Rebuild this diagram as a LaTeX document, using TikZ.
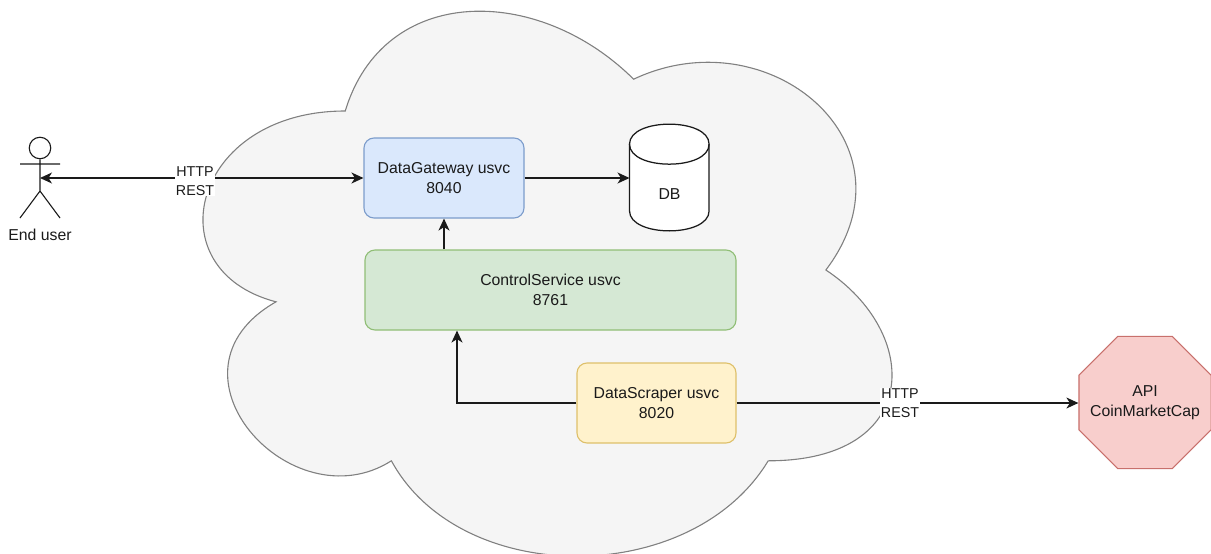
\documentclass[tikz,border=0pt]{standalone}
\usepackage{fontspec}
\setmainfont{Liberation Sans}
\usetikzlibrary{arrows.meta,shapes.geometric}
\definecolor{bluefill}{HTML}{DAE8FC}\definecolor{bluedraw}{HTML}{7C9CCB}
\definecolor{greenfill}{HTML}{D5E8D4}\definecolor{greendraw}{HTML}{90BE76}
\definecolor{yellowfill}{HTML}{FFF2CC}\definecolor{yellowdraw}{HTML}{DEC06A}
\definecolor{redfill}{HTML}{F8CECC}\definecolor{reddraw}{HTML}{C8706C}
\definecolor{cloudfill}{HTML}{F5F5F5}\definecolor{clouddraw}{HTML}{808080}
\definecolor{ink}{HTML}{1A1A1A}
\tikzset{
  svcbox/.style={draw=#1draw,fill=#1fill,rounded corners=10pt,line width=1.1pt,align=center,
    font=\fontsize{15.8}{20}\selectfont,text=ink,inner sep=0pt},
  conn/.style={draw=ink,line width=1.25pt,-{Stealth[length=12pt,width=11pt,inset=3.5pt]}},
  edgelabel/.style={fill=white,align=center,font=\fontsize{14.3}{18.5}\selectfont,text=ink,inner sep=1pt},
  plainlabel/.style={align=center,font=\fontsize{15.8}{20}\selectfont,text=ink},
  shapeline/.style={draw=ink,line width=1.25pt}
}
\begin{document}
\begin{tikzpicture}[x=1pt,y=-1pt]
\useasboundingbox (0,0) rectangle (1211,554);
\clip (0,0) rectangle (1211,554);
% cloud
\def\W{769}\def\H{636}\def\Xo{153}\def\Yo{-48}
\path[fill=cloudfill,draw=clouddraw,line width=1.1pt,x=\W pt,y=-\H pt,shift={(\Xo pt,-\Yo pt)}]
 (0.25,0.25) .. controls (0.05,0.25) and (0,0.5) .. (0.16,0.55)
 .. controls (0,0.66) and (0.18,0.9) .. (0.31,0.8)
 .. controls (0.4,1) and (0.7,1) .. (0.8,0.8)
 .. controls (1,0.8) and (1,0.6) .. (0.875,0.5)
 .. controls (1,0.3) and (0.8,0.1) .. (0.625,0.2)
 .. controls (0.5,0.05) and (0.3,0.05) .. cycle;
% boxes
\node[svcbox=blue,minimum width=160pt,minimum height=80pt] (gateway) at (444,178) {DataGateway usvc\\8040};
\node[svcbox=green,minimum width=371pt,minimum height=80pt] (control) at (550.5,290) {ControlService usvc\\8761};
\node[svcbox=yellow,minimum width=159pt,minimum height=80pt] (scraper) at (656.5,403) {DataScraper usvc\\8020};
% database
\node[minimum width=79.6pt,minimum height=106.7pt,inner sep=0pt] (db) at (669.5,177.7) {};
\begin{scope}[shift={(db.north west)}]
\path[shapeline,fill=white] (0,20) .. controls (0,-6.67) and (79.6,-6.67) .. (79.6,20)
  -- (79.6,86.7) .. controls (79.6,113.4) and (0,113.4) .. (0,86.7) -- cycle;
\path[shapeline] (0,20) .. controls (0,46.67) and (79.6,46.67) .. (79.6,20);
\end{scope}
\node[plainlabel] (dblabel) at (669.5,194) {DB};
% octagon
\node[regular polygon,regular polygon sides=8,minimum size=143pt,inner sep=0pt,
  draw=reddraw,fill=redfill,line width=1.1pt] (api) at (1145,402.5) {};
\node[plainlabel] (apilabel) at (api.center) {API\\CoinMarketCap};
% actor
\coordinate (actor) at (40,178);
\node[circle,draw=ink,line width=1.1pt,minimum size=21.5pt,inner sep=0pt] (head) at (40,148) {};
\coordinate (armL) at (20,164);\coordinate (armR) at (60,164);
\coordinate (hip) at (40,191);\coordinate (legL) at (20,218);\coordinate (legR) at (60,218);
\draw[shapeline,line width=1.1pt] (head.south) -- (hip) (armL) -- (armR) (legL) -- (hip) -- (legR);
\node[plainlabel,inner sep=0pt] (enduser) at (40,235) {End user};
% connectors
\draw[conn,{Stealth[length=12pt,width=11pt,inset=3.5pt]}-{Stealth[length=12pt,width=11pt,inset=3.5pt]}] (actor) -- (gateway.west);
\draw[conn] (gateway.east) -- (db.west |- gateway.east);
\draw[conn] (control.north -| gateway.south) -- (gateway.south);
\coordinate (bend) at (457,403);
\draw[conn] (scraper.west) -- (bend) -- (bend |- control.south);
\draw[conn] (scraper.east) -- (api.west |- scraper.east);
\node[edgelabel] (restL) at (195,181) {HTTP\\REST};
\node[edgelabel] (restR) at (900,403) {HTTP\\REST};
\end{tikzpicture}
\end{document}
